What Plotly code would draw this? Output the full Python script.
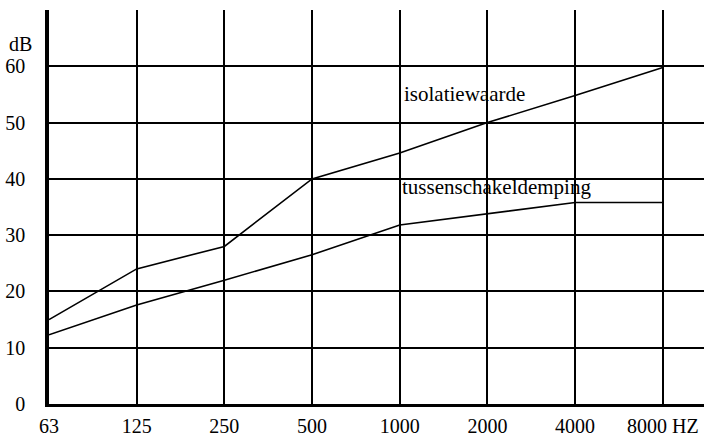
import plotly.graph_objects as go

freq_labels = ["63", "125", "250", "500", "1000", "2000", "4000", "8000"]
freq_unit = "HZ"
isolatiewaarde = [15, 24, 28, 40, 44.6, 50, 54.8, 59.8]
tussenschakeldemping = [12.3, 17.6, 22, 26.5, 31.8, 33.8, 35.8, 35.8]
y_ticks = [0, 10, 20, 30, 40, 50, 60]

x_idx = list(range(len(freq_labels)))
tick_text = freq_labels[:-1] + [freq_labels[-1] + " " + freq_unit]
FONT = "Liberation Serif, Times New Roman, serif"

fig = go.Figure()
fig.add_trace(go.Scatter(x=x_idx, y=isolatiewaarde, mode="lines",
                         line=dict(color="black", width=1.6), showlegend=False))
fig.add_trace(go.Scatter(x=x_idx, y=tussenschakeldemping, mode="lines",
                         line=dict(color="black", width=1.6), showlegend=False))

fig.add_annotation(x=4.03, y=55, text="isolatiewaarde", showarrow=False,
                   xanchor="left", yanchor="middle", font=dict(size=21, family=FONT, color="black"))
fig.add_annotation(x=4.0, y=38.5, text="tussenschakeldemping", showarrow=False,
                   xanchor="left", yanchor="middle", font=dict(size=21, family=FONT, color="black"))
fig.add_annotation(x=0, xref="paper", xshift=-29, y=64, yref="y", text="dB", showarrow=False,
                   xanchor="center", yanchor="middle", font=dict(size=20, family=FONT, color="black"))

fig.update_layout(
    width=704, height=437,
    margin=dict(l=49, r=0, t=10, b=23),
    paper_bgcolor="white", plot_bgcolor="white",
    font=dict(family=FONT, size=20, color="black"),
    xaxis=dict(range=[0, 7.47], tickvals=x_idx, ticktext=tick_text,
               showgrid=True, gridcolor="black", gridwidth=1.5,
               showline=True, linecolor="black", linewidth=2.5,
               ticks="", zeroline=False, ticklabelstandoff=2, fixedrange=True),
    yaxis=dict(range=[0, 70], tickvals=y_ticks,
               showgrid=True, gridcolor="black", gridwidth=1.5,
               showline=True, linecolor="black", linewidth=3.5,
               ticks="", zeroline=False, ticklabelstandoff=16, fixedrange=True),
)

fig.write_html("out.html", config={"displayModeBar": False},
               post_script="document.body.style.margin='0';document.body.style.overflow='hidden';")
